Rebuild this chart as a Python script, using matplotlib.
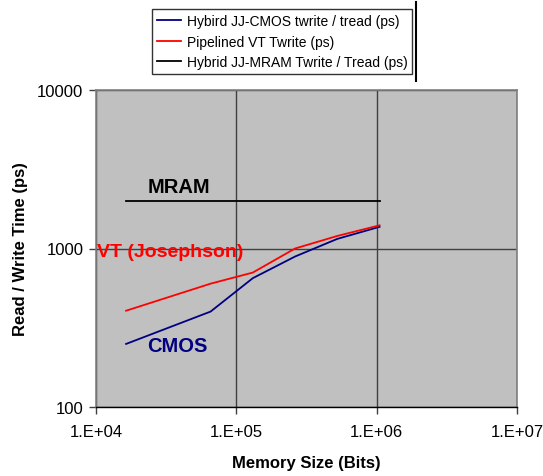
import numpy as np
import matplotlib.pyplot as plt
from matplotlib.lines import Line2D

plt.rcParams['font.family'] = ['Liberation Sans', 'DejaVu Sans']

# memory sizes (bits)
sizes = [16384, 65536, 131072, 262144, 524288, 1048576]
cmos_time = [250, 400, 650, 890, 1150, 1370]
vt_time = [405, 600, 705, 1000, 1200, 1400]
mram_sizes = [16384, 1048576]
mram_time = [2000, 2000]

labels = ['Hybird JJ-CMOS twrite / tread (ps)',
          'Pipelined VT Twrite (ps)',
          'Hybrid JJ-MRAM Twrite / Tread (ps)']

fig = plt.figure(figsize=(5.43, 4.77), dpi=100)
ax = fig.add_axes([96 / 543, 1 - 408 / 477, 421 / 543, 317 / 477])
ax.set_facecolor('#C0C0C0')

ax.plot(sizes, cmos_time, color='#000080', lw=1.3, label=labels[0])
ax.plot(sizes, vt_time, color='#FF0000', lw=1.3, label=labels[1])
ax.plot(mram_sizes, mram_time, color='black', lw=1.3, label=labels[2])

ax.set_xscale('log')
ax.set_yscale('log')
ax.set_xlim(1e4, 1e7)
ax.set_ylim(100, 10000)
ax.set_xticks([1e4, 1e5, 1e6, 1e7])
ax.set_xticklabels(['1.E+04', '1.E+05', '1.E+06', '1.E+07'])
ax.set_yticks([100, 1000, 10000])
ax.set_yticklabels(['100', '1000', '10000'])
ax.minorticks_off()
ax.tick_params(axis='both', labelsize=12, color='#404040', length=5, width=1)
ax.tick_params(axis='x', pad=7)
ax.tick_params(axis='y', pad=4)

ax.grid(True, which='major', color='#404040', lw=1)
for s in ax.spines.values():
    s.set_color('#808080')
    s.set_linewidth(1.2)
ax.spines['bottom'].set_color('black')
ax.spines['bottom'].set_linewidth(1.0)

ax.set_xlabel('Memory Size (Bits)', fontsize=12, fontweight='bold', labelpad=12)
ax.set_ylabel('Read / Write Time (ps)', fontsize=12, fontweight='bold', labelpad=7)

ax.text(39000, 2150, 'MRAM', fontsize=14.5, fontweight='bold', color='black',
        ha='center', va='bottom')
ax.text(10200, 960, 'VT (Josephson)', fontsize=14, fontweight='bold', color='#FF0000',
        ha='left', va='center')
ax.text(38000, 245, 'CMOS', fontsize=14.5, fontweight='bold', color='#000080',
        ha='center', va='center')

leg = fig.legend(loc='upper left', bbox_to_anchor=(152 / 543, 1 - 10 / 477),
                 fontsize=10, frameon=True, fancybox=False, handlelength=1.75,
                 borderpad=0.35, labelspacing=0.48, handletextpad=0.4,
                 borderaxespad=0)
leg.get_frame().set_edgecolor('black')
leg.get_frame().set_linewidth(1.0)

fig.add_artist(Line2D([416 / 543, 416 / 543], [1 - 3 / 477, 1 - 82 / 477],
                      color='black', lw=1.5))

fig.savefig('out.png', dpi=100)
